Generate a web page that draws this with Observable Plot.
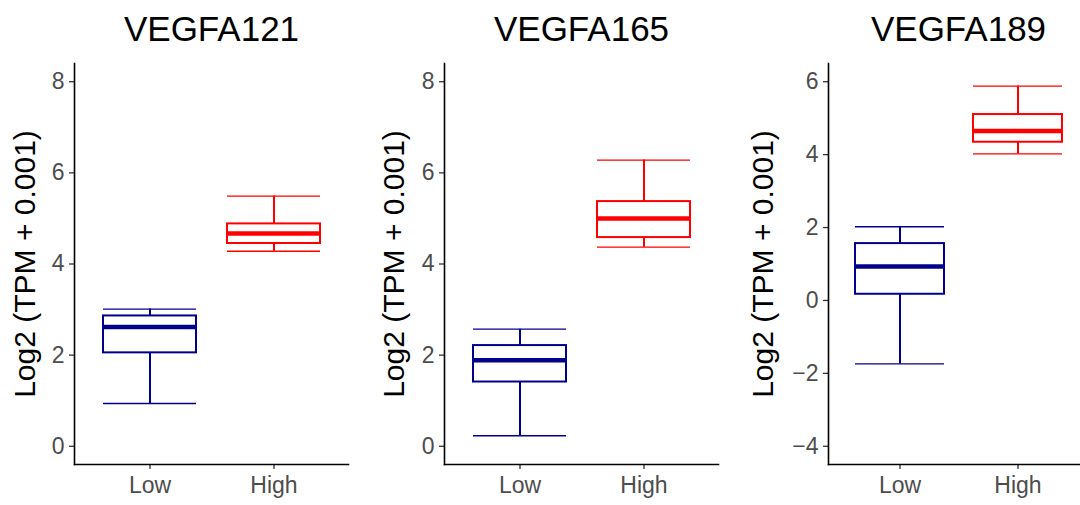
<!DOCTYPE html>
<html>
<head>
<meta charset="utf-8">
<script src="https://cdn.jsdelivr.net/npm/d3@7"></script>
<script src="https://cdn.jsdelivr.net/npm/@observablehq/plot@0.6"></script>
<style>
  html, body { margin: 0; padding: 0; background: #fff; }
  #wrap { position: relative; width: 1080px; height: 505px; overflow: hidden; }
  #wrap > svg { position: absolute; top: 0; }
</style>
</head>
<body>
<div id="wrap"></div>
<script>
// ---- data ----
const genes = ["VEGFA121", "VEGFA165", "VEGFA189"];
const groups = ["Low", "High"];
const groupColors = ["#00008B", "#FF0000"];
const yLabel = "Log2 (TPM + 0.001)";
// per gene: [Low, High]
const whiskerLow = [[0.94, 4.28], [0.23, 4.37], [-1.74, 4.02]];
const q1 =         [[2.05, 4.45], [1.41, 4.58], [0.17, 4.34]];
const median =     [[2.62, 4.67], [1.89, 5.00], [0.93, 4.65]];
const q3 =         [[2.86, 4.88], [2.21, 5.37], [1.56, 5.10]];
const whiskerHigh =[[3.01, 5.49], [2.57, 6.28], [2.02, 5.88]];
const yLimits = [[0, 8], [0, 8], [-4, 6]];
const yTicks = [[0, 2, 4, 6, 8], [0, 2, 4, 6, 8], [-4, -2, 0, 2, 4, 6]];

// ---- layout per panel ----
const panelLeft = [0, 360, 720];
const panelWidth = [360, 360, 370];
const marginLeft = [74, 84, 108];
const marginRight = [12, 2, 2];
const yTitleDx = [-49, -50, -65];

const font = "'Liberation Sans', Arial, Helvetica, sans-serif";
const fmt = d => d < 0 ? "\u2212" + Math.abs(d) : String(d);

genes.forEach((gene, gi) => {
  const rows = groups.map((g, k) => ({
    group: g,
    lo: whiskerLow[gi][k], q1: q1[gi][k], med: median[gi][k],
    q3: q3[gi][k], hi: whiskerHigh[gi][k]
  }));
  const [a, b] = yLimits[gi];
  const pad = (b - a) * 0.05;
  const yDomain = [a - pad, b + pad];

  const svg = Plot.plot({
    width: panelWidth[gi],
    height: 505,
    marginLeft: marginLeft[gi],
    marginRight: marginRight[gi],
    marginTop: 63,
    marginBottom: 41,
    style: { fontFamily: font, background: "white", overflow: "visible" },
    x: { type: "band", domain: groups, paddingInner: 0.25, paddingOuter: 0.225, align: 0.5 },
    y: { domain: yDomain },
    color: { domain: groups, range: groupColors },
    marks: [
      Plot.axisY(yTicks[gi], { tickSize: 5, tickPadding: 5, fontSize: 23, fill: "#4D4D4D", stroke: "#333333", strokeWidth: 1.3, tickFormat: fmt, label: null }),
      Plot.axisX({ tickSize: 5, tickPadding: 7, fontSize: 23, fill: "#4D4D4D", stroke: "#333333", strokeWidth: 1.3, label: null }),
      Plot.ruleX(rows, { x: "group", y1: "q3", y2: "hi", stroke: "group", strokeWidth: 2 }),
      Plot.ruleX(rows, { x: "group", y1: "lo", y2: "q1", stroke: "group", strokeWidth: 2 }),
      Plot.tickY(rows, { x: "group", y: "hi", stroke: "group", strokeWidth: 1.4 }),
      Plot.tickY(rows, { x: "group", y: "lo", stroke: "group", strokeWidth: 1.4 }),
      Plot.barY(rows, { x: "group", y1: "q1", y2: "q3", fill: "white", stroke: "group", strokeWidth: 2 }),
      Plot.tickY(rows, { x: "group", y: "med", stroke: "group", strokeWidth: 4.5 }),
      Plot.frame({ anchor: "left", stroke: "black", strokeWidth: 1.6 }),
      Plot.frame({ anchor: "bottom", stroke: "black", strokeWidth: 1.6 }),
      Plot.text([gene], { frameAnchor: "top", dy: -23, lineAnchor: "bottom", fontSize: 35, fill: "black" }),
      Plot.text([yLabel], { frameAnchor: "left", dx: yTitleDx[gi], rotate: -90, textAnchor: "middle", lineAnchor: "middle", fontSize: 30, fill: "black" })
    ]
  });
  svg.style.left = panelLeft[gi] + "px";
  document.getElementById("wrap").appendChild(svg);
});
</script>
</body>
</html>
